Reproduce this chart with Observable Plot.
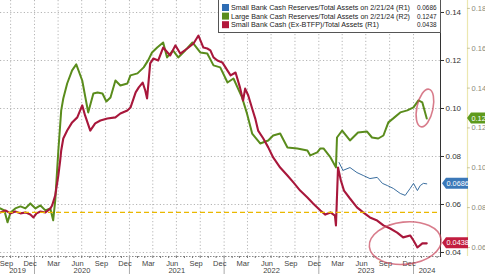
<!DOCTYPE html>
<html><head><meta charset="utf-8">
<script src="https://cdn.jsdelivr.net/npm/d3@7"></script>
<script src="https://cdn.jsdelivr.net/npm/@observablehq/plot@0.6"></script>
<style>
html,body{margin:0;padding:0;background:#fff;overflow:hidden}
#chart{position:relative;width:485px;height:274px;overflow:hidden}
#chart svg{display:block}
</style></head><body><div id="chart"></div>
<script>
// ---- legend / series meta ----
const seriesNames = [
  "Small Bank Cash Reserves/Total Assets on 2/21/24 (R1)",
  "Large Bank Cash Reserves/Total Assets on 2/21/24 (R2)",
  "Small Bank Cash (Ex-BTFP)/Total Assets (R1)"
];
const seriesLast = ["0.0686", "0.1247", "0.0438"];
const seriesColors = ["#3a6e9f", "#5a8c1c", "#a8173b"];
const swatchColors = ["#2e6db4", "#5a8c1c", "#b3173b"];

// ---- Large bank cash / total assets (R2) ----
const largeDates = ["2019-08-22","2019-09-07","2019-09-19","2019-10-01","2019-10-19","2019-11-08","2019-11-27","2019-12-16","2020-01-05","2020-01-24","2020-02-12","2020-03-02","2020-03-13","2020-03-21","2020-04-02","2020-04-13","2020-04-21","2020-05-06","2020-05-25","2020-06-10","2020-07-03","2020-07-26","2020-08-15","2020-08-31","2020-09-19","2020-10-04","2020-10-20","2020-11-08","2020-11-27","2020-12-24","2021-01-05","2021-02-01","2021-02-25","2021-03-14","2021-03-29","2021-04-18","2021-05-11","2021-05-26","2021-06-18","2021-07-08","2021-08-04","2021-09-01","2021-10-01","2021-10-28","2021-11-21","2021-12-17","2022-01-14","2022-02-06","2022-03-11","2022-03-30","2022-04-19","2022-05-20","2022-06-20","2022-07-09","2022-08-05","2022-09-02","2022-10-10","2022-11-18","2022-11-29","2022-12-26","2023-01-07","2023-01-19","2023-02-15","2023-03-08","2023-03-12","2023-04-01","2023-05-01","2023-06-01","2023-07-06","2023-07-25","2023-08-18","2023-09-07","2023-09-26","2023-10-15","2023-11-11","2023-12-08","2024-01-01","2024-01-20","2024-02-04","2024-02-21"];
const largeValues = [0.0796,0.0786,0.0726,0.0776,0.0796,0.0806,0.0796,0.0821,0.0796,0.0811,0.0786,0.0796,0.0736,0.0836,0.1087,0.1288,0.1348,0.1423,0.1489,0.1519,0.1438,0.1278,0.1373,0.1378,0.1373,0.1333,0.1353,0.1438,0.1413,0.1423,0.1464,0.1474,0.1504,0.1539,0.1579,0.1604,0.1629,0.1554,0.1589,0.1554,0.1589,0.1629,0.1579,0.1574,0.1514,0.1504,0.1428,0.1448,0.1353,0.1273,0.1172,0.1122,0.1137,0.1162,0.1172,0.1102,0.1097,0.1087,0.1062,0.1077,0.1097,0.1097,0.1052,0.1002,0.1152,0.1187,0.1137,0.1177,0.1182,0.1152,0.1147,0.1162,0.1228,0.1248,0.1278,0.1288,0.1303,0.1338,0.1328,0.1247];

// ---- Small bank cash (ex-BTFP) / total assets (R1) ----
const smallExDates = ["2019-08-22","2019-09-11","2019-10-01","2019-10-19","2019-11-08","2019-11-27","2019-12-16","2019-12-28","2020-01-09","2020-01-24","2020-02-12","2020-03-02","2020-03-09","2020-03-21","2020-04-02","2020-04-09","2020-04-13","2020-04-21","2020-05-06","2020-05-25","2020-06-14","2020-07-03","2020-07-14","2020-08-03","2020-08-22","2020-09-11","2020-10-08","2020-11-08","2020-11-27","2020-12-24","2021-01-05","2021-01-25","2021-02-06","2021-02-21","2021-03-03","2021-03-10","2021-03-22","2021-04-03","2021-04-22","2021-05-11","2021-06-07","2021-06-27","2021-07-16","2021-08-12","2021-09-05","2021-09-24","2021-10-13","2021-10-28","2021-11-09","2021-11-21","2021-12-06","2021-12-25","2022-01-14","2022-01-26","2022-02-14","2022-03-03","2022-03-15","2022-03-23","2022-04-04","2022-04-19","2022-05-01","2022-05-12","2022-06-01","2022-06-20","2022-07-09","2022-08-05","2022-09-02","2022-09-25","2022-10-21","2022-11-18","2022-12-10","2023-01-07","2023-01-26","2023-02-15","2023-03-04","2023-03-08","2023-03-16","2023-03-27","2023-04-08","2023-05-01","2023-05-28","2023-06-21","2023-07-17","2023-08-14","2023-09-07","2023-10-03","2023-10-30","2023-11-22","2023-12-19","2024-01-01","2024-01-16","2024-02-04","2024-02-21"];
const smallExValues = [0.0567,0.0575,0.0563,0.0571,0.0563,0.0567,0.0558,0.0546,0.0563,0.0571,0.0567,0.0583,0.0596,0.0638,0.0721,0.0783,0.0825,0.0875,0.0908,0.0942,0.0963,0.1013,0.0971,0.0908,0.0938,0.0950,0.0958,0.0963,0.0979,0.0992,0.1004,0.1067,0.1088,0.1108,0.1075,0.1042,0.1188,0.1208,0.1200,0.1254,0.1221,0.1263,0.1229,0.1250,0.1271,0.1304,0.1254,0.1250,0.1242,0.1213,0.1200,0.1192,0.1158,0.1138,0.1150,0.1088,0.1033,0.1083,0.1054,0.1000,0.0958,0.0908,0.0875,0.0838,0.0796,0.0754,0.0721,0.0692,0.0658,0.0629,0.0604,0.0575,0.0558,0.0567,0.0554,0.0513,0.0754,0.0700,0.0658,0.0625,0.0588,0.0567,0.0546,0.0533,0.0513,0.0500,0.0483,0.0463,0.0471,0.0450,0.0421,0.0438,0.0438];

// ---- Small bank cash reserves / total assets (R1) ----
const smallDates = ["2023-03-20","2023-04-04","2023-05-01","2023-05-28","2023-06-21","2023-07-17","2023-08-14","2023-09-03","2023-09-22","2023-10-15","2023-11-11","2023-11-30","2023-12-19","2024-01-01","2024-01-16","2024-01-27","2024-02-08","2024-02-21"];
const smallValues = [0.0775,0.0742,0.0754,0.0733,0.0721,0.0708,0.0713,0.0688,0.0679,0.0667,0.0646,0.0638,0.0667,0.0688,0.0658,0.0679,0.0688,0.0686];

// ---- reference level (dashed) ----
const refLevel = 0.0567;

// ---- axes ----
const r1Ticks = [0.04, 0.06, 0.08, 0.10, 0.12, 0.14];
const r2Ticks = [0.06, 0.08, 0.10, 0.12, 0.14, 0.16, 0.18];
const r2OnR1 = [0.0421, 0.1417]; // where R2 0.06 and 0.18 sit on the R1 scale
const monthLabels = ["Sep","Dec","Mar","Jun","Sep","Dec","Mar","Jun","Sep","Dec","Mar","Jun","Sep","Dec","Mar","Jun","Sep","Dec"];
const monthLabelDates = ["2019-09-15","2019-12-15","2020-03-15","2020-06-15","2020-09-15","2020-12-15","2021-03-15","2021-06-15","2021-09-15","2021-12-15","2022-03-15","2022-06-15","2022-09-15","2022-12-15","2023-03-15","2023-06-15","2023-09-15","2023-12-15"];
const yearLabels = ["2019","2020","2021","2022","2023","2024"];
const xDomain = ["2019-08-23","2024-04-14"];
const yDomain = [0.03833, 0.145];

// ---- annotation ovals: center date, center value (R1), half-width days, half-height ----
const ovalDates = ["2024-02-16", "2023-12-02"];
const ovalValues = [0.1000, 0.0437];
const ovalDays = [31, 139];
const ovalHalf = [0.0080, 0.0088];
const ovalTilt = [12, -6];

// ================= build =================
const FONT = "'Liberation Sans', Arial, sans-serif";
const P = s => new Date(s);
const r2map = d3.scaleLinear().domain([r2Ticks[0], r2Ticks[r2Ticks.length - 1]]).range(r2OnR1);
const large = largeDates.map((d, i) => ({date: P(d), value: largeValues[i]}));
const smallEx = smallExDates.map((d, i) => ({date: P(d), value: smallExValues[i]}));
const small = smallDates.map((d, i) => ({date: P(d), value: smallValues[i]}));
const x0 = P(xDomain[0]), x1 = P(xDomain[1]);
const yMin = yDomain[0];

const quarterStarts = d3.utcMonths(x0, x1).filter(d => d.getUTCMonth() % 3 === 0 && d <= P("2024-01-01"));
const monthStarts = d3.utcMonths(x0, x1);
const yearStarts = d3.utcYears(x0, x1);
const months = monthLabelDates.map((d, i) => ({date: P(d), label: monthLabels[i]}));
const years = yearLabels.map(y => {
  const a = new Date(Math.max(+P(y + "-01-01"), +x0));
  const b = new Date(Math.min(+P((+y + 1) + "-01-01"), +x1));
  return {date: new Date((+a + +b) / 2), label: y};
});
const below = (yDomain[1] - yDomain[0]) / 256; // value per pixel

const grid = {stroke: "#b5b5b5", strokeDasharray: "1.2,2.2", strokeWidth: 1};

const plot = Plot.plot({
  width: 485, height: 274,
  marginLeft: 0, marginRight: 45, marginTop: 0, marginBottom: 18,
  style: {fontFamily: FONT, fontSize: "8px", color: "#333", background: "#fff", overflow: "hidden"},
  x: {type: "utc", domain: [x0, x1], axis: null},
  y: {domain: yDomain, axis: "right", ticks: r1Ticks, tickFormat: d3.format(".2f"), tickSize: 3, tickPadding: 2, label: null, line: true},
  marks: [
    Plot.ruleY(r1Ticks, grid),
    Plot.ruleX(quarterStarts, grid),
    Plot.ruleY([yMin], {stroke: "#888", strokeDasharray: "1.5,1.5"}),
    Plot.ruleX(monthStarts, {x: d => d, y1: yMin, y2: yMin - 2 * below, stroke: "#777"}),
    Plot.ruleX(yearStarts, {x: d => d, y1: yMin, y2: yMin - 18 * below, stroke: "#aaa"}),
    Plot.text(months, {x: "date", y: yMin, dy: 7, text: "label", fill: "#444", fontSize: 7.5}),
    Plot.text(years, {x: "date", y: yMin, dy: 14.5, text: "label", fill: "#444", fontSize: 7.5}),
    // R2 axis
    Plot.ruleX([x1], {dx: 27, stroke: "#ece7b0", strokeWidth: 1.2}),
    Plot.ruleY(r2Ticks, {y: d => r2map(d), x1: x1, x2: new Date(+x1 + 11 * 864e5), dx: 27, stroke: "#c8c39a"}),
    Plot.text(r2Ticks, {y: d => r2map(d), x: x1, dx: 31, text: d => d3.format(".2f")(d), textAnchor: "start", fill: "#8a8a7a", fontSize: 7.5}),
    // series
    Plot.line(small, {x: "date", y: "value", stroke: seriesColors[0], strokeWidth: 1}),
    Plot.line(large, {x: "date", y: d => r2map(d.value), stroke: seriesColors[1], strokeWidth: 2}),
    Plot.line(smallEx, {x: "date", y: "value", stroke: seriesColors[2], strokeWidth: 2.1}),
    Plot.ruleY([refLevel], {x1: x0, x2: x1, stroke: "#eab800", strokeWidth: 1.4, strokeDasharray: "5,3"})
  ]
});
document.getElementById("chart").appendChild(plot);

const svg = d3.select(plot);
const xs = plot.scale("x"), ys = plot.scale("y");

// ovals
ovalDates.forEach((d, i) => {
  const c = P(d);
  const cx = xs.apply(c), cy = ys.apply(ovalValues[i]);
  const rx = xs.apply(new Date(+c + ovalDays[i] * 864e5)) - cx;
  const ry = cy - ys.apply(ovalValues[i] + ovalHalf[i]);
  svg.append("ellipse").attr("cx", cx).attr("cy", cy).attr("rx", rx).attr("ry", ry)
    .attr("transform", `rotate(${ovalTilt[i]} ${cx} ${cy})`)
    .attr("fill", "none").attr("stroke", "#c8455a").attr("stroke-opacity", 0.7).attr("stroke-width", 1.6);
});

// last-value badges
function badge(v, xl, color, label, w) {
  const yc = ys.apply(v);
  const g = svg.append("g");
  g.append("path").attr("d", `M${xl},${yc} L${xl + 4},${yc - 5.5} L${xl + w},${yc - 5.5} L${xl + w},${yc + 5.5} L${xl + 4},${yc + 5.5} Z`).attr("fill", color);
  g.append("text").attr("x", xl + 4.5).attr("y", yc).attr("dy", "0.35em").attr("fill", "#fff")
    .attr("text-anchor", "start").attr("font-size", 7.3).attr("font-family", FONT).text(label);
}
const rx0 = xs.apply(x1);
badge(smallValues[smallValues.length - 1], rx0 + 2, "#3b78b8", seriesLast[0], 26);
badge(smallExValues[smallExValues.length - 1], rx0 + 2, "#c21d3f", seriesLast[2], 26);
// green R2 badge runs past the right edge, as in the original
badge(r2map(largeValues[largeValues.length - 1]), rx0 + 27, "#5e9a1c", seriesLast[1], 26);

// legend box
const lg = svg.append("g").attr("font-family", FONT).attr("font-size", 7.4).attr("text-anchor", "start");
lg.append("rect").attr("x", 218.5).attr("y", -1).attr("width", 222).attr("height", 33.5)
  .attr("fill", "#ffffff").attr("stroke", "#555").attr("stroke-width", 1);
const nameW = [179, 179, 148];
seriesNames.forEach((n, i) => {
  const yc = 7.5 + i * 8.6;
  lg.append("rect").attr("x", 222).attr("y", yc - 3.5).attr("width", 7).attr("height", 7).attr("fill", swatchColors[i]);
  lg.append("text").attr("x", 231).attr("y", yc).attr("dy", "0.35em").attr("fill", "#222").attr("text-anchor", "start")
    .attr("textLength", nameW[i]).attr("lengthAdjust", "spacingAndGlyphs").text(n);
  lg.append("text").attr("x", 417).attr("y", yc).attr("dy", "0.35em").attr("fill", "#222").attr("text-anchor", "start")
    .attr("textLength", 19.5).attr("lengthAdjust", "spacingAndGlyphs").text(seriesLast[i]);
});
</script></body></html>
